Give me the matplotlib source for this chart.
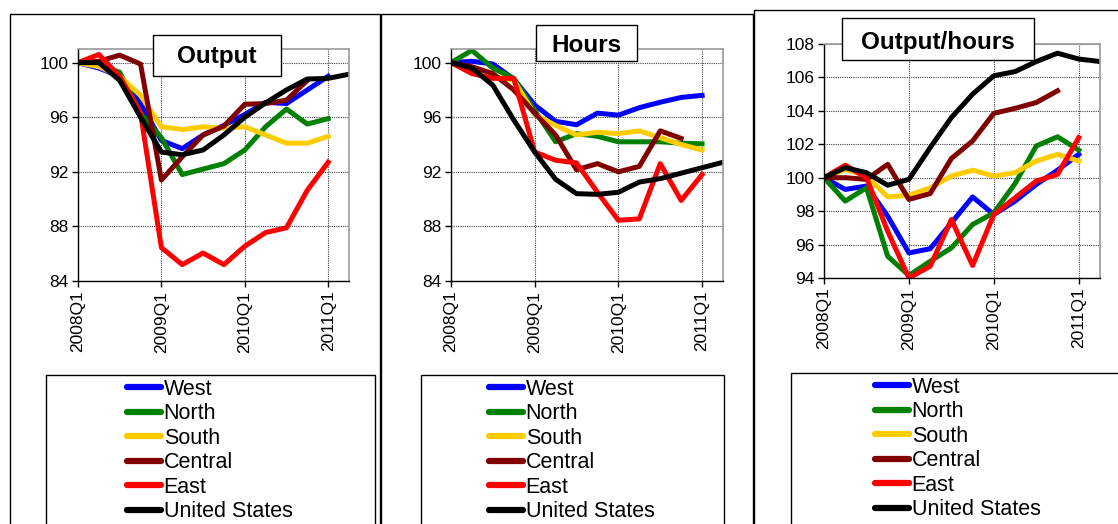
import matplotlib
matplotlib.use("Agg")
import matplotlib.pyplot as plt
from matplotlib.patches import Rectangle
from matplotlib.lines import Line2D

# quarters 2008Q1 .. 2011Q2
quarters = ["2008Q1", "2008Q2", "2008Q3", "2008Q4",
            "2009Q1", "2009Q2", "2009Q3", "2009Q4",
            "2010Q1", "2010Q2", "2010Q3", "2010Q4",
            "2011Q1", "2011Q2"]
tick_quarters = ["2008Q1", "2009Q1", "2010Q1", "2011Q1"]

regions = ["West", "North", "South", "Central", "East", "United States"]
colors = ["#0000FF", "#008000", "#FFCC00", "#800000", "#FF0000", "#000000"]

# Output (index, 2008Q1 = 100)
output_west = [100, 99.6, 99.0, 97.0, 94.3, 93.7, 94.7, 95.4, 96.2, 97.1, 97.0, 98.0, 99.0]
output_north = [100, 99.8, 99.3, 96.3, 94.5, 91.8, 92.2, 92.6, 93.6, 95.3, 96.6, 95.5, 95.9]
output_south = [100, 99.7, 99.0, 97.6, 95.3, 95.1, 95.3, 95.2, 95.3, 94.7, 94.1, 94.1, 94.6]
output_central = [100, 100.1, 100.55, 99.9, 91.4, 93.1, 94.7, 95.35, 96.95, 97.0, 97.25, 98.7]
output_east = [100, 100.6, 99.0, 96.3, 86.45, 85.2, 86.05, 85.2, 86.55, 87.55, 87.9, 90.65, 92.7]
output_us = [100, 100, 98.7, 96.0, 93.45, 93.25, 93.6, 94.7, 96.0, 97.05, 98.0, 98.8, 98.85, 99.15]

# Hours
hours_west = [100, 100.1, 99.9, 98.8, 96.9, 95.7, 95.45, 96.3, 96.15, 96.7, 97.1, 97.45, 97.6]
hours_north = [100, 100.9, 99.6, 98.85, 96.5, 94.2, 94.8, 94.6, 94.2, 94.2, 94.2, 94.1, 94.05]
hours_south = [100, 99.6, 99.0, 98.7, 96.2, 95.4, 94.7, 94.9, 94.8, 95.0, 94.5, 94.0, 93.6]
hours_central = [100, 99.7, 99.2, 98.0, 96.3, 94.7, 92.15, 92.6, 92.0, 92.4, 95.0, 94.45]
hours_east = [100, 99.2, 98.85, 98.85, 93.45, 92.85, 92.65, 90.5, 88.45, 88.55, 92.6, 89.9, 91.8]
hours_us = [100, 99.6, 98.35, 95.8, 93.45, 91.45, 90.4, 90.35, 90.5, 91.25, 91.5, 91.9, 92.3, 92.7]

# Output/hours
prod_west = [100, 99.3, 99.5, 97.7, 95.5, 95.75, 97.3, 98.85, 97.8, 98.6, 99.6, 100.45, 101.4]
prod_north = [100, 98.6, 99.4, 95.3, 94.15, 95.0, 95.8, 97.2, 97.9, 99.65, 101.9, 102.45, 101.65]
prod_south = [100, 100.5, 100.1, 98.85, 98.95, 99.4, 100.1, 100.45, 100.1, 100.3, 101.0, 101.4, 101.0]
prod_central = [100, 100.0, 99.9, 100.8, 98.7, 99.05, 101.15, 102.2, 103.85, 104.15, 104.5, 105.2]
prod_east = [100, 100.75, 100.0, 96.8, 94.0, 94.7, 97.5, 94.75, 97.8, 98.8, 99.8, 100.2, 102.4]
prod_us = [100, 100.6, 100.3, 99.55, 99.9, 101.8, 103.6, 105.0, 106.1, 106.35, 106.95, 107.45, 107.1, 106.95]

panels = [
    ("Output", [output_west, output_north, output_south, output_central, output_east, output_us],
     (84, 101), [84, 88, 92, 96, 100]),
    ("Hours", [hours_west, hours_north, hours_south, hours_central, hours_east, hours_us],
     (84, 101), [84, 88, 92, 96, 100]),
    ("Output/hours", [prod_west, prod_north, prod_south, prod_central, prod_east, prod_us],
     (94, 108), [94, 96, 98, 100, 102, 104, 106, 108]),
]

W, H = 1118, 524
fig = plt.figure(figsize=(W / 100, H / 100), dpi=100)
plt.rcParams["font.family"] = ["Liberation Sans", "DejaVu Sans"]


def fx(px):
    return px / W


def fy(py):
    return 1 - py / H


def box(l, t, r, b, **kw):
    fig.patches.append(Rectangle((fx(l), fy(b)), fx(r - l), fy(t) - fy(b),
                                 transform=fig.transFigure, **kw))


# panel frames (pixel coords: left, top, right)
frames = [(10, 14, 380), (381, 14, 753), (754, 10, 1125)]
# plot areas (left, top, right, bottom)
areas = [(78, 49, 349, 281), (451, 49, 723, 281), (824, 44, 1100, 278)]
# title boxes (left, top, right, bottom) and text baseline
title_boxes = [(153, 35, 281, 76), (536, 25, 637, 61), (842, 18, 1034, 60)]
title_base = [63, 51.5, 48.5]
# legend boxes (left, top, right) and x of handle start
legend_boxes = [(46, 375, 375), (421, 375, 724), (791, 373, 1125)]
legend_x = [127, 489, 875]

for l, t, r in frames:
    box(l, t, r, H + 10, fill=False, ec="black", lw=1)

for k, (title, series, ylim, yticks) in enumerate(panels):
    l, t, r, b = areas[k]
    ax = fig.add_axes([fx(l), fy(b), fx(r - l), fy(t) - fy(b)])
    for vals, name, c in zip(series, regions, colors):
        ax.plot(range(len(vals)), vals, color=c, lw=3.6, label=name)
    ax.set_xlim(0, len(quarters) - 1)
    ax.set_ylim(*ylim)
    ax.set_yticks(yticks)
    ax.set_xticks([quarters.index(q) for q in tick_quarters])
    ax.set_xticklabels(tick_quarters, rotation=90)
    ax.tick_params(labelsize=12.5, direction="out", length=4, width=1, pad=3)
    ax.grid(True, color="#444444", ls=(0, (1, 1)), lw=0.8)
    ax.set_axisbelow(True)
    for s in ["top", "right"]:
        ax.spines[s].set_color("#999999")
        ax.spines[s].set_linewidth(1.2)
    for s in ["left", "bottom"]:
        ax.spines[s].set_color("black")
        ax.spines[s].set_linewidth(1)

    tl, tt, tr, tb = title_boxes[k]
    box(tl, tt, tr, tb, fc="white", ec="black", lw=1, zorder=5)
    fig.text(fx((tl + tr) / 2), fy(title_base[k]), title, ha="center", va="baseline",
             fontsize=17.5, fontweight="bold", zorder=6)

    bl, bt, br = legend_boxes[k]
    box(bl, bt, br, H + 10, fill=False, ec="black", lw=1)
    leg_handles = [Line2D([0], [0], color=c, lw=4.5, solid_capstyle="round") for c in colors]
    fig.legend(leg_handles, regions, loc="upper left",
               bbox_to_anchor=(fx(legend_x[k]), fy(bt + 4)),
               frameon=False, borderpad=0, borderaxespad=0,
               handlelength=1.6, handletextpad=0.1, labelspacing=0.16,
               prop={"size": 15.5})

fig.savefig("out.png", dpi=100)
